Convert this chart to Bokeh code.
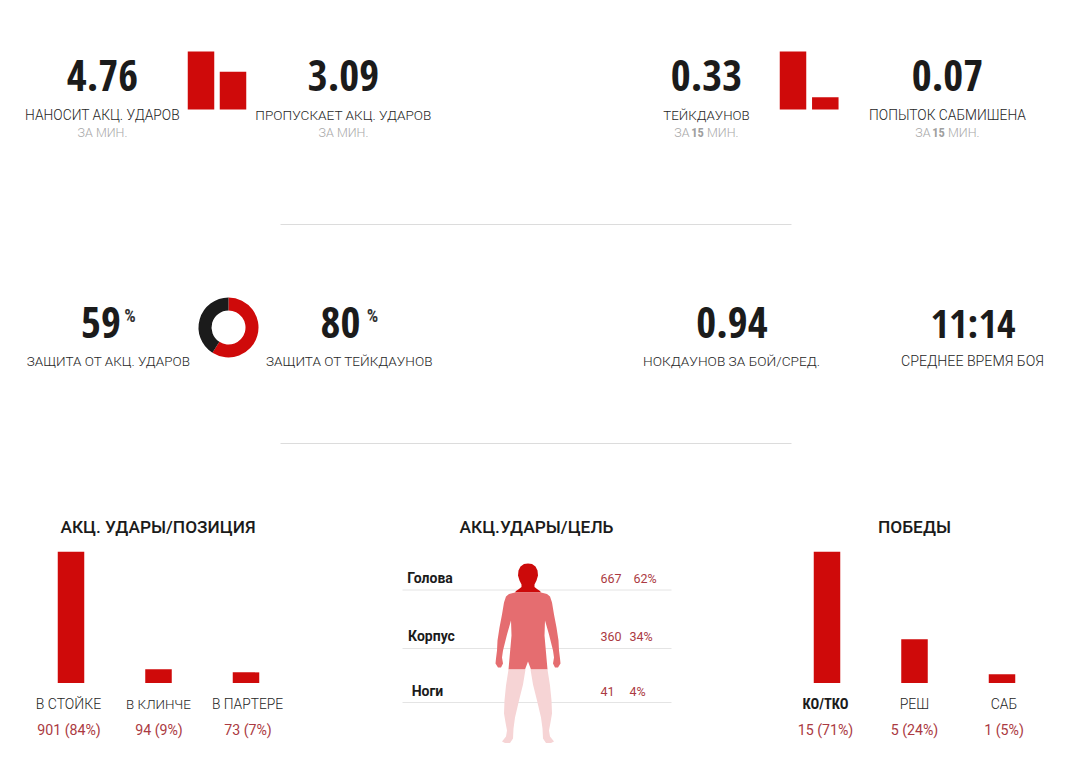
from bokeh.core.properties import value
from bokeh.embed import file_html
from bokeh.models import Range1d
from bokeh.plotting import figure
from bokeh.resources import INLINE
import math

# ---------- data ----------
strike_rate_values = [4.76, 3.09]
strike_rate_labels = ["НАНОСИТ АКЦ. УДАРОВ", "ПРОПУСКАЕТ АКЦ. УДАРОВ"]
takedown_values = [0.33, 0.07]
takedown_labels = ["ТЕЙКДАУНОВ", "ПОПЫТОК САБМИШЕНА"]
defense_values = [59, 80]
defense_labels = ["ЗАЩИТА ОТ АКЦ. УДАРОВ", "ЗАЩИТА ОТ ТЕЙКДАУНОВ"]
donut_shares = [59, 41]
misc_values = ["0.94", "11:14"]
misc_labels = ["НОКДАУНОВ ЗА БОЙ/СРЕД.", "СРЕДНЕЕ ВРЕМЯ БОЯ"]

position_categories = ["В СТОЙКЕ", "В КЛИНЧЕ", "В ПАРТЕРЕ"]
position_values = [901, 94, 73]
position_pcts = [84, 9, 7]

target_categories = ["Голова", "Корпус", "Ноги"]
target_values = [667, 360, 41]
target_pcts = [62, 34, 4]

wins_categories = ["КО/ТКО", "РЕШ", "САБ"]
wins_values = [15, 5, 1]
wins_pcts = [71, 24, 5]

titles = ["АКЦ. УДАРЫ/ПОЗИЦИЯ", "АКЦ.УДАРЫ/ЦЕЛЬ", "ПОБЕДЫ"]

# ---------- layout & style ----------
LEFT, RIGHT, TOP, BOTTOM = 0, 1068, 0, 761
RED = "#cf0a0a"
DARK = "#1b1b1b"
LABEL = "#262626"
SUB = "#a8a8a8"
VAL = "#ab3a42"
NUM_FONT = "Open Sans Condensed"
BOLD_NARROW = "Roboto Condensed"
TXT_FONT = "Roboto Light"
NUM_SIZE = 43

p = figure(width=RIGHT - LEFT, height=BOTTOM - TOP, output_backend="svg", toolbar_location=None,
           x_range=Range1d(LEFT, RIGHT), y_range=Range1d(BOTTOM, TOP),
           x_axis_location=None, y_axis_location=None, min_border=0,
           outline_line_color=None, background_fill_color="white", border_fill_color="white")
p.grid.visible = False


def text(x, y, s, size, color, bold=False, font=TXT_FONT, align="center"):
    p.text([x], [y], text=[s], text_font=value(font), text_font_size=f"{size}px", text_color=color,
           text_font_style="bold" if bold else "normal", text_align=align, text_baseline="middle")


def bars(name, values, x0, step, width, base_px, top_px):
    vmax = max(values)
    k = vmax / (base_px - top_px)
    p.extra_y_ranges[name] = Range1d((base_px - BOTTOM) * k, (base_px - TOP) * k)
    p.extra_x_ranges[name] = Range1d((LEFT - x0) / step, (RIGHT - x0) / step)
    p.vbar(x=list(range(len(values))), top=values, bottom=0, width=width / step, fill_color=RED,
           line_color=None, x_range_name=name, y_range_name=name)


def hline(x0, x1, y, color):
    p.segment([x0], [y], [x1], [y], line_color=color, line_width=1)


# ---------- top row ----------
bars("strike", strike_rate_values, 200.5, 32, 26.5, 109, 51)
bars("td", takedown_values, 792.5, 32.3, 26.5, 109, 51)

for x, v, lab, sz in zip([102, 343], strike_rate_values, strike_rate_labels, [13.8, 13.6]):
    text(x, 75, f"{v:.2f}", NUM_SIZE, DARK, True, NUM_FONT)
    text(x, 114.5, lab, sz, LABEL)
    text(x, 132, "ЗА МИН.", 12.5, SUB)
for x, v, lab, sz in zip([706, 947], takedown_values, takedown_labels, [13.3, 13.8]):
    text(x, 75, f"{v:.2f}", NUM_SIZE, DARK, True, NUM_FONT)
    text(x, 114.5, lab, sz, LABEL)
    text(x - 17, 132, "ЗА", 12.5, SUB, align="right")
    text(x - 9, 132, "15", 12.5, "#9f9f9f", True, BOLD_NARROW)
    text(x + 0.5, 132, "МИН.", 12.5, SUB, align="left")

hline(280, 791, 224, "#dcdcdc")
hline(280, 791, 443, "#dcdcdc")

# ---------- middle row ----------
for x, v, lab, lx, px, sz in zip([100.5, 340], defense_values, defense_labels, [108, 349], [129.5, 372], [13.5, 13.6]):
    text(x, 322, str(v), NUM_SIZE, DARK, True, NUM_FONT)
    text(px, 315, "%", 18, "#333333", True, BOLD_NARROW)
    text(lx, 360.5, lab, sz, LABEL)

total = sum(donut_shares)
start = math.pi / 2
cols = [RED, DARK]
for share, c in zip(donut_shares, cols):
    end = start - 2 * math.pi * share / total
    p.annular_wedge([228], [327], inner_radius=17, outer_radius=30, inner_radius_units="screen",
                     outer_radius_units="screen", start_angle=end, end_angle=start,
                     fill_color=c, line_color=None)
    start = end

for x, v, lab, lx, sz, ns in zip([731.5, 972.5], misc_values, misc_labels, [731, 972], [13.7, 14.2], [NUM_SIZE, 40]):
    text(x, 322, v, ns, DARK, True, NUM_FONT)
    text(lx, 360.5, lab, sz, LABEL)

# ---------- bottom row ----------
for x, t in zip([157.5, 536, 914], titles):
    text(x, 526, t, 17.3, DARK, font="Roboto Medium")

bars("pos", position_values, 70.5, 87.5, 26.5, 682.5, 551.3)
for i, (c, v, pc) in enumerate(zip(position_categories, position_values, position_pcts)):
    x = [68, 158, 247][i]
    text(x, 703.5, c, [14, 13.4, 13.8][i], LABEL)
    text(x + 0.5, 729, f"{v} ({pc}%)", 14.2, VAL, font="Roboto")

bars("wins", wins_values, 826.5, 87.5, 26.5, 682.5, 551.3)
for i, (c, v, pc) in enumerate(zip(wins_categories, wins_values, wins_pcts)):
    x = [825, 914, 1003.5][i]
    if i == 0:
        text(x, 703.5, c, 14.5, DARK, True, BOLD_NARROW)
    else:
        text(x, 703.5, c, 14, LABEL)
    text(x, 729, f"{v} ({pc}%)", 14.2, VAL, font="Roboto")

# table rows & body silhouette
for y in [589.5, 648, 702]:
    hline(402, 671, y, "#e4e4e4")

CX = 527.5


def mirror(half):
    right = [(CX + d, y) for d, y in half]
    left = [(CX - d, y) for d, y in reversed(half)]
    return right + left


head = [(0, 563), (4, 563.5), (7.5, 566), (9.5, 570), (10, 575), (8.5, 580), (6.5, 584), (6.5, 586.5),
        (9, 588.5), (12, 590.5), (13, 592)]
torso = [(13, 592), (19, 593.5), (22, 596), (24, 602), (26, 614), (28.5, 627), (30.5, 640), (31, 650),
         (32, 658), (32.5, 663), (30, 667), (27, 667), (25, 663), (26, 657), (25, 650), (21, 634),
         (17, 620), (16.5, 635), (18, 652), (19.5, 669), (3, 669), (0, 661)]
leg_right = [(19.5, 669), (22, 685), (23.5, 700), (24, 713), (22.5, 722), (21, 730), (22, 736), (26, 741),
             (23, 742.5), (18, 742.5), (15, 738), (14.5, 728), (13, 717), (9, 700), (5, 684), (2.5, 669)]

hx, hy = zip(*mirror(head))
p.patch(hx, hy, fill_color="#cc0a0a", line_color=None)
tx, ty = zip(*mirror(torso))
p.patch(tx, ty, fill_color="#e56d70", line_color=None)
for sign in (1, -1):
    p.patch([CX + sign * d for d, _ in leg_right], [y for _, y in leg_right], fill_color="#f6d4d5", line_color=None)

for i, (c, v, pc) in enumerate(zip(target_categories, target_values, target_pcts)):
    y = [577.5, 635.5, 690.5][i]
    lx = [429.5, 431, 427][i]
    px = [633, 629, 629][i]
    text(lx, y, c, 14, DARK, True, font="Roboto")
    text(600, y, str(v), 12.5, VAL, align="left", font="Roboto")
    text(px, y, f"{pc}%", 12.5, VAL, align="left", font="Roboto")

open("out.html", "w").write(file_html(p, INLINE))
